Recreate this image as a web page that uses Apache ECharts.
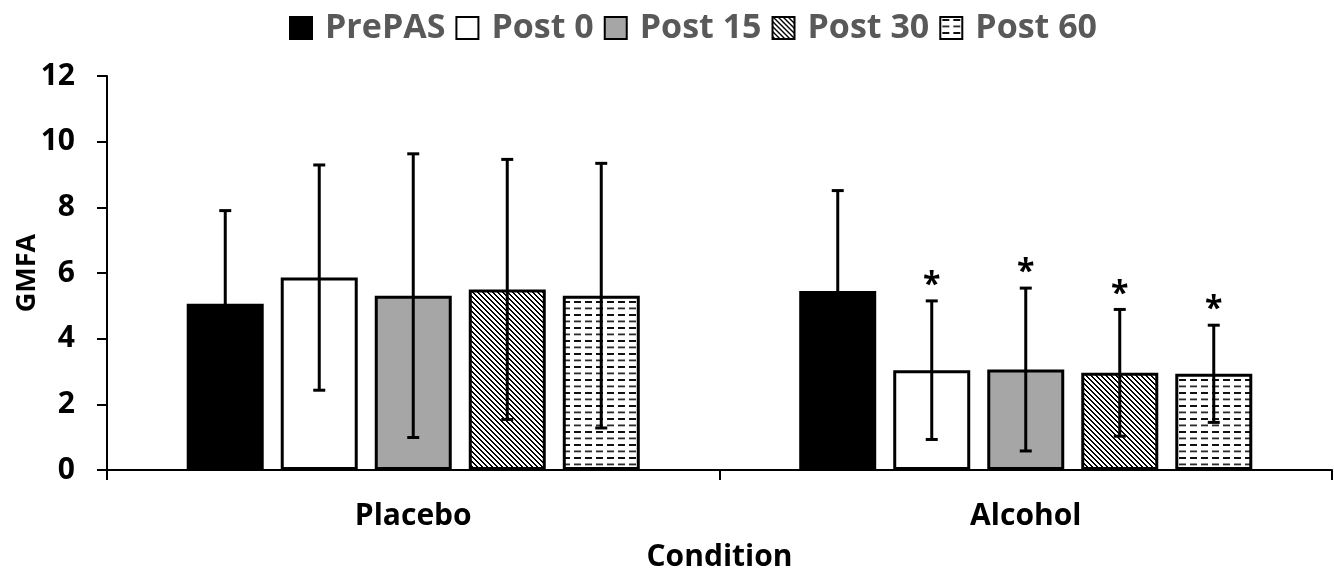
<!DOCTYPE html>
<html><head><meta charset="utf-8">
<script src="https://cdn.jsdelivr.net/npm/echarts@6/dist/echarts.min.js"></script>
<style>html,body{margin:0;padding:0;background:#fff}#c{width:1334px;height:573px}</style>
</head><body><div id="c"></div>
<script>
// ---- data ----
const categories = ['Placebo', 'Alcohol'];
const seriesNames = ['PrePAS', 'Post 0', 'Post 15', 'Post 30', 'Post 60'];
const prePAS = [5.06, 5.45];
const post0  = [5.86, 3.04];
const post15 = [5.31, 3.06];
const post30 = [5.50, 2.96];
const post60 = [5.31, 2.93];
const sdPrePAS = [2.84, 3.06];
const sdPost0  = [3.43, 2.11];
const sdPost15 = [4.32, 2.48];
const sdPost30 = [3.96, 1.93];
const sdPost60 = [4.03, 1.48];
const sigPrePAS = [0, 0];
const sigPost0  = [0, 1];
const sigPost15 = [0, 1];
const sigPost30 = [0, 1];
const sigPost60 = [0, 1];
const yTicks = [0, 2, 4, 6, 8, 10, 12];

const means = [prePAS, post0, post15, post30, post60];
const sds = [sdPrePAS, sdPost0, sdPost15, sdPost30, sdPost60];
const sigs = [sigPrePAS, sigPost0, sigPost15, sigPost30, sigPost60];

// ---- patterns ----
function diagPattern() {
  const n = 5;
  const c = document.createElement('canvas');
  c.width = n; c.height = n;
  const g = c.getContext('2d');
  g.fillStyle = '#fff'; g.fillRect(0, 0, n, n);
  g.fillStyle = '#000';
  for (let y = 0; y < n; y++) {
    for (let k = 0; k < 2; k++) {
      g.fillRect((y + k) % n, y, 1, 1);
    }
  }
  return c;
}
function dashPattern() {
  const c = document.createElement('canvas');
  c.width = 11; c.height = 13;
  const g = c.getContext('2d');
  g.fillStyle = '#fff'; g.fillRect(0, 0, 11, 13);
  g.fillStyle = '#111';
  g.fillRect(2, 2, 7, 2);
  g.fillStyle = '#2a2a2a';
  g.fillRect(2, 8.5, 7, 1.8);
  return c;
}
const fills = [
  '#000000',
  '#ffffff',
  '#a6a6a6',
  { image: diagPattern(), repeat: 'repeat' },
  { image: dashPattern(), repeat: 'repeat' }
];

const FONT = '"Open Sans"';
const BAR_W = 77, GAP = 17;

const barSeries = seriesNames.map((name, i) => ({
  name, type: 'bar', data: means[i],
  barWidth: BAR_W, barGap: (GAP / BAR_W * 100).toFixed(1) + '%',
  itemStyle: { color: fills[i], borderColor: '#000', borderWidth: 3 },
  emphasis: { disabled: true },
  z: 2
}));

const errData = [];
for (let s = 0; s < seriesNames.length; s++) {
  for (let c = 0; c < categories.length; c++) {
    errData.push([c, s, means[s][c], sds[s][c], sigs[s][c]]);
  }
}

const errSeries = {
  type: 'custom', name: 'err', data: errData, z: 5,
  encode: { x: 0, y: 2 },
  renderItem(params, api) {
    const cat = api.value(0), si = api.value(1), m = api.value(2), sd = api.value(3), sig = api.value(4);
    const off = (si - (seriesNames.length - 1) / 2) * (BAR_W + GAP);
    const top = api.coord([cat, m + sd]);
    const bot = api.coord([cat, m - sd]);
    const x = top[0] + off;
    const cap = 6;
    const st = { stroke: '#000', lineWidth: 3 };
    const children = [
      { type: 'line', shape: { x1: x, y1: top[1], x2: x, y2: bot[1] }, style: st },
      { type: 'line', shape: { x1: x - cap, y1: top[1], x2: x + cap, y2: top[1] }, style: st },
      { type: 'line', shape: { x1: x - cap, y1: bot[1], x2: x + cap, y2: bot[1] }, style: st }
    ];
    if (sig) {
      children.push({ type: 'text', style: { text: '*', x: x, y: top[1] - 15, align: 'center', verticalAlign: 'middle',
        fontSize: 32, fontWeight: 'bold', fontFamily: FONT, fill: '#000' } });
    }
    return { type: 'group', children };
  }
};

const chart = echarts.init(document.getElementById('c'), null, { renderer: 'canvas' });
chart.setOption({
  animation: false,
  backgroundColor: '#fff',
  legend: {
    data: seriesNames, top: 6, left: 284, icon: 'rect',
    itemWidth: 22, itemHeight: 22, itemGap: 10,
    textStyle: { fontFamily: FONT, fontSize: 34, fontWeight: 'bold', color: '#595959', padding: [0, 0, 0, 8] },
    selectedMode: false
  },
  grid: { left: 107, right: 2, top: 76, bottom: 103, containLabel: false, outerBoundsMode: 'none' },
  xAxis: {
    type: 'category', data: categories,
    axisLine: { lineStyle: { color: '#000', width: 2 } },
    axisTick: { show: true, length: 10, lineStyle: { color: '#000', width: 2 } },
    axisLabel: { fontFamily: FONT, fontSize: 30, fontWeight: 'bold', color: '#000', margin: 31 },
    name: 'Condition', nameLocation: 'middle', nameGap: 72, nameMoveOverlap: false,
    nameTextStyle: { fontFamily: FONT, fontSize: 30, fontWeight: 'bold', color: '#000' }
  },
  yAxis: {
    type: 'value', min: yTicks[0], max: yTicks[yTicks.length - 1], interval: yTicks[1] - yTicks[0],
    axisLine: { show: true, lineStyle: { color: '#000', width: 2 } },
    axisTick: { show: true, length: 10, lineStyle: { color: '#000', width: 2 } },
    splitLine: { show: false },
    axisLabel: { fontFamily: FONT, fontSize: 30, fontWeight: 'bold', color: '#000', margin: 32 },
    name: 'GMFA', nameLocation: 'middle', nameGap: 66, nameRotate: 90, nameMoveOverlap: false,
    nameTextStyle: { fontFamily: FONT, fontSize: 27, fontWeight: 'bold', color: '#000' }
  },
  series: [...barSeries, errSeries]
});
</script>
</body></html>
